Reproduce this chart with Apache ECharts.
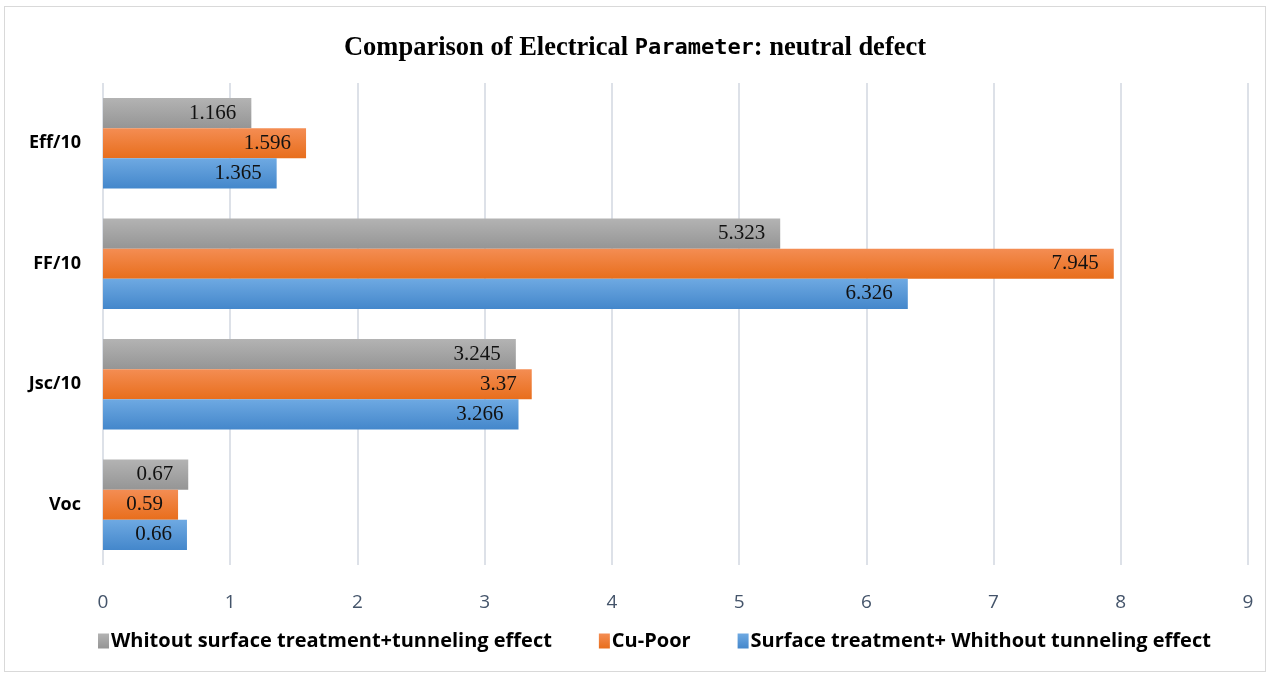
<!DOCTYPE html>
<html>
<head>
<meta charset="utf-8">
<script src="https://cdn.jsdelivr.net/npm/echarts@6/dist/echarts.min.js"></script>
<style>
  html, body { margin: 0; padding: 0; background: #fff; }
  #frame { position: absolute; left: 4px; top: 6px; width: 1260px; height: 664px; border: 1px solid #d9d9d9; }
  #chart { width: 1270px; height: 677px; }
</style>
</head>
<body>
<div id="frame"></div>
<div id="chart"></div>
<script>
// categories bottom -> top
const categories = ['Voc', 'Jsc/10', 'FF/10', 'Eff/10']
const seriesNames = [
  'Whitout surface treatment+tunneling effect',
  'Cu-Poor',
  'Surface treatment+ Whithout tunneling effect'
]
const noSurfaceTunnel = [0.67, 3.245, 5.323, 1.166]
const cuPoor = [0.59, 3.37, 7.945, 1.596]
const surfaceNoTunnel = [0.66, 3.266, 6.326, 1.365]
const xTicks = [0, 1, 2, 3, 4, 5, 6, 7, 8, 9]

const grad = (top, bottom) => new echarts.graphic.LinearGradient(0, 0, 0, 1, [
  { offset: 0, color: top },
  { offset: 1, color: bottom }
])

const labelStyle = {
  show: true,
  position: 'insideRight',
  distance: 15,
  color: '#111',
  fontFamily: 'Liberation Serif',
  fontSize: 21
}

const chart = echarts.init(document.getElementById('chart'))

const option = {
  animation: false,
  title: {
    text: '{a|Comparison of Electrical }{b|Parameter}{a|: neutral defect}',
    left: 'center',
    top: 30,
    textStyle: {
      rich: {
        a: { fontFamily: 'Liberation Serif', fontWeight: 'bold', fontSize: 26.5, color: '#000' },
        b: { fontFamily: 'DejaVu Sans Mono', fontSize: 22, color: '#000' }
      }
    }
  },
  legend: {
    data: seriesNames,
    left: 93,
    top: 626,
    itemWidth: 11,
    itemHeight: 15,
    itemGap: 47,
    icon: 'rect',
    textStyle: { fontFamily: 'Open Sans', fontWeight: 'bold', fontSize: 20, color: '#000', padding: [0, 0, 0, -3] }
  },
  grid: { left: 103, right: 22, top: 83, bottom: 112 },
  xAxis: {
    type: 'value',
    min: 0,
    max: 9,
    interval: 1,
    axisLine: { show: false },
    axisTick: { show: false },
    axisLabel: {
      color: '#44546a',
      fontFamily: 'Open Sans',
      fontSize: 19,
      margin: 28,
      formatter: v => xTicks.includes(v) ? String(v) : ''
    },
    splitLine: { lineStyle: { color: '#dde1e8', width: 2 } }
  },
  yAxis: {
    type: 'category',
    data: categories,
    axisLine: { show: false },
    axisTick: { show: false },
    axisLabel: {
      color: '#000',
      fontFamily: 'Open Sans',
      fontWeight: 'bold',
      fontSize: 18,
      margin: 22
    }
  },
  series: [
    {
      name: seriesNames[0],
      type: 'bar',
      data: noSurfaceTunnel,
      barGap: '0%',
      barCategoryGap: '25%',
      itemStyle: { color: grad('#b3b3b3', '#959595') },
      label: labelStyle
    },
    {
      name: seriesNames[1],
      type: 'bar',
      data: cuPoor,
      itemStyle: { color: grad('#f48d53', '#e86e1c') },
      label: labelStyle
    },
    {
      name: seriesNames[2],
      type: 'bar',
      data: surfaceNoTunnel,
      itemStyle: { color: grad('#6ea9e2', '#4487cb') },
      label: labelStyle
    }
  ]
}

chart.setOption(option)
</script>
</body>
</html>
